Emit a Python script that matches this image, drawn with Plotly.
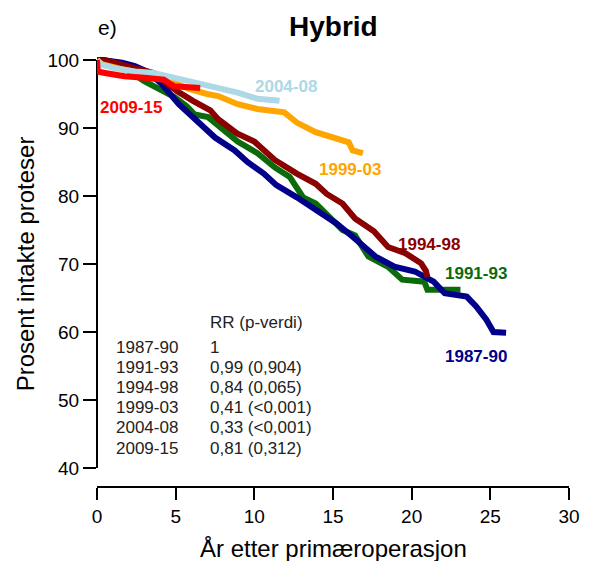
import plotly.graph_objects as go

# ---------------- data ----------------
years_8790 = [0, 0.3, 1.6, 2.4, 3.2, 3.6, 4.06, 5.2, 6.44, 7.5, 8.75, 9.56, 10.6, 11.4, 12.7, 13.9,
              15.2, 16.25, 17.7, 18.9, 20.2, 21.4, 22.1, 23.5, 24.1, 24.75, 25.2, 26.0]
surv_8790 = [100, 100, 99.6, 99.1, 98.3, 97.6, 96.6, 93.5, 91.0, 88.6, 86.7, 85.0, 83.3, 81.6, 79.8, 77.9,
             76.0, 74.0, 71.1, 69.6, 68.9, 67.4, 65.7, 65.2, 63.75, 61.8, 60.0, 59.9]

years_9193 = [0, 0.5, 1.1, 1.9, 3.0, 4.06, 4.9, 5.7, 6.2, 7.06, 7.9, 8.94, 10.2, 11.3, 12.25, 13.1,
              13.9, 14.75, 15.6, 16.4, 17.25, 18.5, 19.4, 20.8, 21.0, 23.1]
surv_9193 = [100, 100, 99.6, 98.6, 96.9, 95.6, 94.6, 93.2, 92.0, 91.6, 90.1, 88.0, 86.3, 84.2, 82.8, 79.8,
             78.9, 76.9, 75.0, 74.2, 71.1, 69.6, 67.7, 67.4, 66.2, 66.2]

years_9498 = [0, 0.9, 1.9, 3.6, 4.25, 5.1, 6.1, 7.2, 7.7, 8.9, 10.0, 11.3, 12.7, 13.9, 14.6, 15.6,
              16.4, 17.6, 18.5, 19.6, 20.6, 20.9, 21.0]
surv_9498 = [100, 99.8, 99.1, 98.1, 96.9, 95.4, 94.0, 92.6, 91.3, 89.2, 88.0, 85.3, 83.3, 81.8, 80.3, 78.9,
             76.7, 74.8, 72.5, 71.6, 70.1, 69.0, 68.1]

years_9903 = [0, 0.3, 1.5, 3.0, 4.5, 5.9, 7.0, 7.7, 8.94, 10.2, 11.9, 12.7, 13.9, 15.2, 16.0, 16.25, 16.9]
surv_9903 = [100, 99.4, 98.7, 98.0, 97.0, 95.7, 95.0, 94.7, 93.5, 92.8, 92.3, 90.8, 89.4, 88.6, 87.9, 86.7, 86.3]

years_0408 = [0, 0.3, 1.1, 2.4, 3.6, 4.9, 6.1, 7.4, 8.94, 10.2, 11.0, 11.6]
surv_0408 = [100, 99.3, 98.8, 98.3, 98.1, 97.4, 96.6, 96.1, 95.2, 94.3, 94.1, 94.0]

years_0915 = [0, 0.05, 0.5, 1.75, 3.0, 4.25, 4.7, 4.9, 6.56]
surv_0915 = [100, 98.3, 98.1, 97.6, 97.4, 97.1, 96.4, 96.15, 95.9]

periods = ["1987-90", "1991-93", "1994-98", "1999-03", "2004-08", "2009-15"]
rr_text = ["1", "0,99 (0,904)", "0,84 (0,065)", "0,41 (<0,001)", "0,33 (<0,001)", "0,81 (0,312)"]

x_ticks = [0, 5, 10, 15, 20, 25, 30]
y_ticks = [40, 50, 60, 70, 80, 90, 100]

# ---------------- styling ----------------
W, H = 592, 561
ML, MR, MT, MB = 97, 14, 56, 75
PW, PH = W - ML - MR, H - MT - MB
FONT = "Liberation Sans, Arial, sans-serif"

def px(xp):
    return (xp - ML) / PW

def py(yp):
    return (H - MB - yp) / PH

series = [
    ("1991-93", years_9193, surv_9193, "#0B6B0B"),
    ("1987-90", years_8790, surv_8790, "#00008B"),
    ("1994-98", years_9498, surv_9498, "#8B0000"),
    ("1999-03", years_9903, surv_9903, "#FFA500"),
    ("2004-08", years_0408, surv_0408, "#ADD8E6"),
    ("2009-15", years_0915, surv_0915, "#FF0000"),
]
colors = {name: c for name, _, _, c in series}

fig = go.Figure()
for name, xs, ys, c in series:
    fig.add_trace(go.Scatter(x=xs, y=ys, mode="lines", name=name,
                             line=dict(color=c, width=6), showlegend=False))

# curve labels: (name, pixel x centre, pixel y centre)
label_pos = [("2004-08", 290, 87), ("2009-15", 132, 107), ("1999-03", 355, 169),
             ("1994-98", 435, 244), ("1991-93", 483, 273), ("1987-90", 483, 356)]
ann = []
for name, xp, yp in label_pos:
    ann.append(dict(x=px(xp), y=py(yp), xref="paper", yref="paper", text=f"<b>{name}</b>",
                    showarrow=False, xanchor="center", yanchor="middle",
                    font=dict(family=FONT, size=17, color=colors[name])))

# table
TF = 17
ann.append(dict(x=px(210), y=py(322), xref="paper", yref="paper", text="RR (p-verdi)",
                showarrow=False, xanchor="left", yanchor="middle",
                font=dict(family=FONT, size=TF, color="#222")))
row_y = [347, 367, 387, 407, 427, 448]
for p, r, yp in zip(periods, rr_text, row_y):
    ann.append(dict(x=px(114), y=py(yp), xref="paper", yref="paper", text=p, showarrow=False,
                    xanchor="left", yanchor="middle", font=dict(family=FONT, size=TF, color="#222")))
    ann.append(dict(x=px(210), y=py(yp), xref="paper", yref="paper", text=r, showarrow=False,
                    xanchor="left", yanchor="middle", font=dict(family=FONT, size=TF, color="#222")))

# titles
ann.append(dict(x=px(338), y=py(27), xref="paper", yref="paper", text="<b>Hybrid</b>", showarrow=False,
                xanchor="center", yanchor="middle", font=dict(family=FONT, size=28, color="black")))
ann.append(dict(x=px(96), y=py(28), xref="paper", yref="paper", text="e)", showarrow=False,
                xanchor="left", yanchor="middle", font=dict(family=FONT, size=21, color="black")))
ann.append(dict(x=px(338), y=py(548), xref="paper", yref="paper", text="År etter primæroperasjon",
                showarrow=False, xanchor="center", yanchor="middle",
                font=dict(family=FONT, size=24, color="black")))
ann.append(dict(x=px(24), y=py(264), xref="paper", yref="paper", text="Prosent intakte proteser",
                showarrow=False, xanchor="center", yanchor="middle", textangle=-90,
                font=dict(family=FONT, size=24, color="black")))

fig.update_layout(
    width=W, height=H,
    margin=dict(l=ML, r=MR, t=MT, b=MB, pad=0),
    plot_bgcolor="white", paper_bgcolor="white",
    annotations=ann,
    shapes=[dict(type="line", xref="paper", yref="y", x0=0, x1=0, y0=40, y1=100,
                 line=dict(color="black", width=2), layer="below")],
    xaxis=dict(range=[0, 30], tickvals=x_ticks, showgrid=False, zeroline=False,
               showline=True, linecolor="black", linewidth=2,
               ticks="outside", ticklen=12, tickwidth=2, tickcolor="black",
               tickfont=dict(family=FONT, size=19, color="black")),
    yaxis=dict(range=[37.35, 100.59], tickvals=y_ticks, showgrid=False, zeroline=False,
               showline=False,
               ticks="outside", ticklen=13, tickwidth=2, tickcolor="black",
               tickfont=dict(family=FONT, size=19, color="black")),
)

fig.write_html("out.html")
